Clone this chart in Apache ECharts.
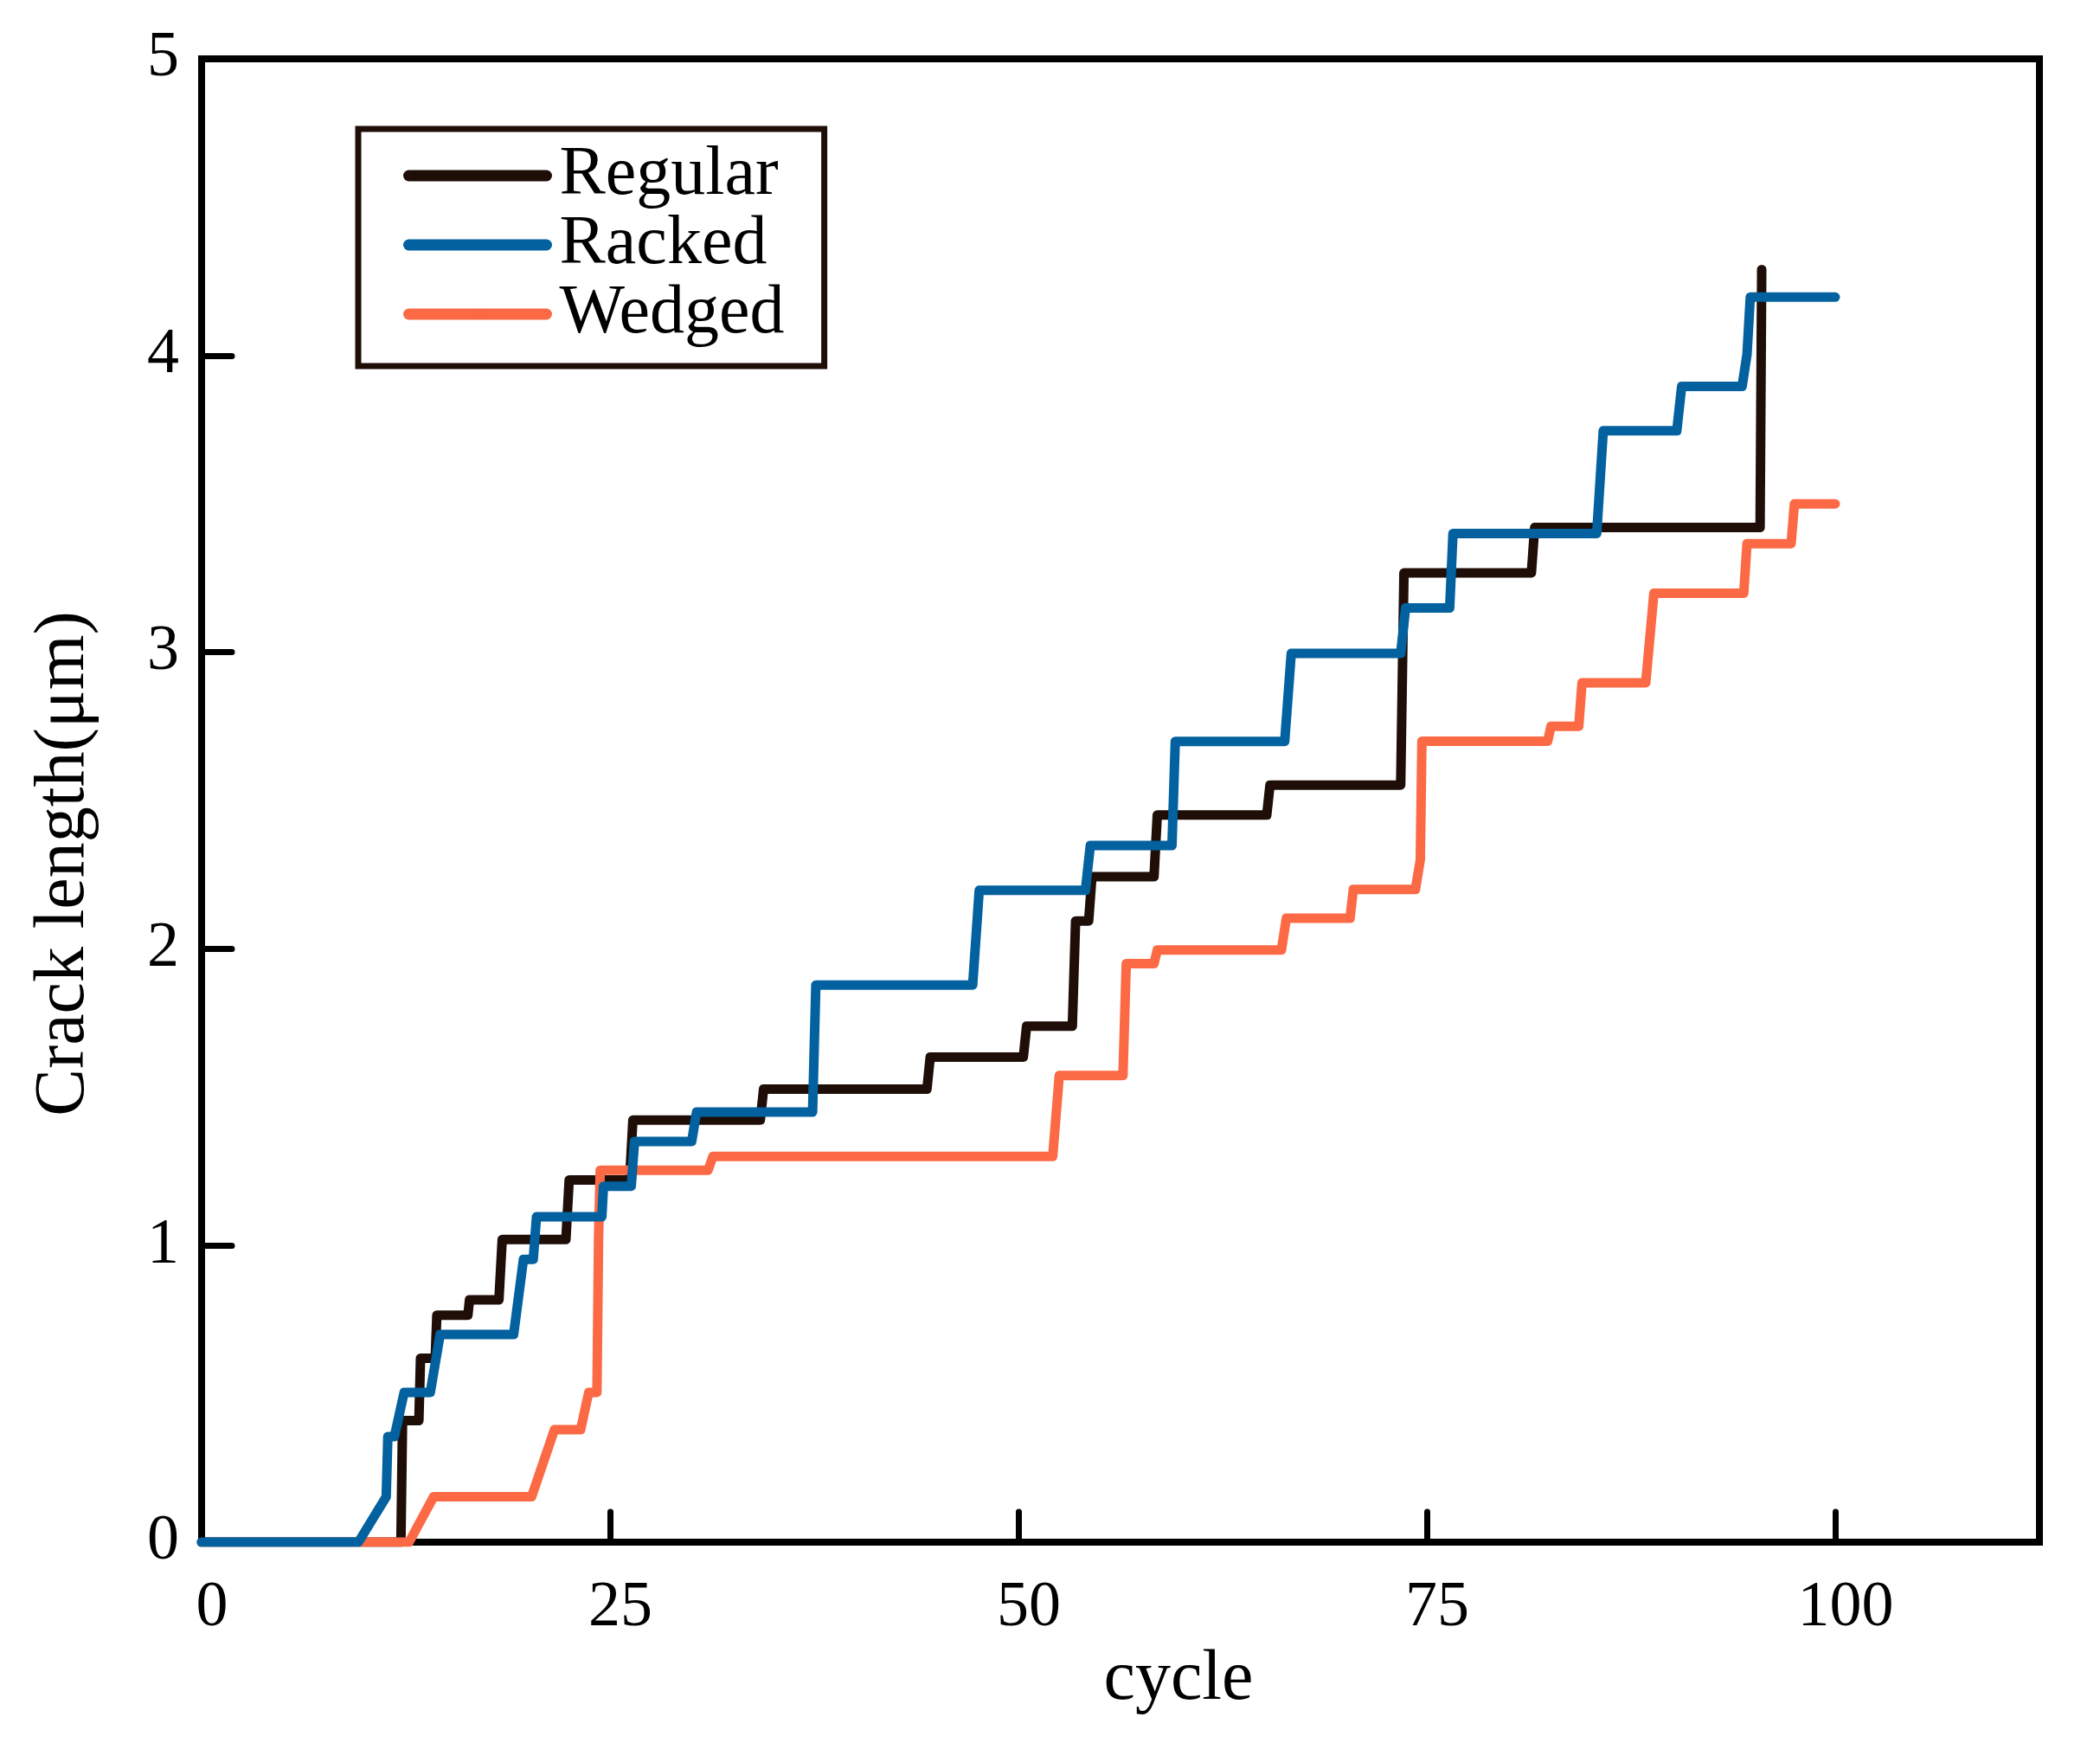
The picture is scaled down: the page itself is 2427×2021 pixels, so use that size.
<!DOCTYPE html>
<html>
<head>
<meta charset="utf-8">
<script src="https://cdn.jsdelivr.net/npm/echarts@6/dist/echarts.min.js"></script>
<style>
html,body{margin:0;padding:0;background:#fff;}
#chart{width:2427px;height:2021px;}
</style>
</head>
<body>
<div id="chart"></div>
<script>
// ---- data ----
const seriesNames = ['Regular', 'Racked', 'Wedged'];
const xTicks = [0, 25, 50, 75, 100];
const yTicks = [0, 1, 2, 3, 4, 5];

const regularCycle  = [0, 12.2, 12.3, 13.3, 13.4, 14.3, 14.4, 16.3, 16.4, 18.2, 18.4, 22.3, 22.5, 26.2, 26.4, 34.2, 34.4, 44.4, 44.6, 50.3, 50.5, 53.3, 53.5, 54.3, 54.5, 58.3, 58.5, 65.2, 65.4, 73.4, 73.6, 81.4, 81.6, 95.4, 95.5];
const regularLength = [0, 0, 0.41, 0.41, 0.62, 0.62, 0.765, 0.765, 0.817, 0.817, 1.02, 1.02, 1.221, 1.221, 1.423, 1.423, 1.527, 1.527, 1.635, 1.635, 1.739, 1.739, 2.094, 2.094, 2.243, 2.243, 2.451, 2.451, 2.552, 2.552, 3.267, 3.267, 3.42, 3.42, 4.29];

const rackedCycle  = [0, 9.6, 11.3, 11.4, 11.8, 12.4, 14.0, 14.6, 19.1, 19.7, 20.3, 20.5, 24.5, 24.6, 26.3, 26.5, 30.0, 30.3, 37.4, 37.6, 47.2, 47.6, 54.1, 54.4, 59.4, 59.6, 66.3, 66.7, 73.4, 73.7, 76.4, 76.6, 85.4, 85.8, 90.3, 90.6, 94.3, 94.6, 94.8, 100];
const rackedLength = [0, 0, 0.153, 0.356, 0.356, 0.505, 0.505, 0.70, 0.70, 0.953, 0.953, 1.097, 1.097, 1.20, 1.20, 1.351, 1.351, 1.45, 1.45, 1.878, 1.878, 2.197, 2.197, 2.348, 2.348, 2.699, 2.699, 2.996, 2.996, 3.149, 3.149, 3.40, 3.40, 3.746, 3.746, 3.896, 3.896, 4.004, 4.197, 4.197];

const wedgedCycle  = [9.8, 12.7, 14.2, 20.2, 21.6, 23.2, 23.7, 24.2, 24.3, 24.4, 31.0, 31.3, 52.1, 52.5, 56.4, 56.6, 58.3, 58.5, 66.1, 66.4, 70.3, 70.5, 74.3, 74.6, 74.7, 82.4, 82.6, 84.3, 84.5, 88.4, 88.9, 94.4, 94.6, 97.3, 97.5, 100];
const wedgedLength = [0, 0, 0.153, 0.153, 0.379, 0.379, 0.505, 0.505, 1.03, 1.254, 1.254, 1.30, 1.30, 1.573, 1.573, 1.95, 1.95, 1.996, 1.996, 2.103, 2.103, 2.20, 2.20, 2.30, 2.70, 2.70, 2.75, 2.75, 2.897, 2.897, 3.199, 3.199, 3.366, 3.366, 3.50, 3.50];

const colors = { Regular: '#1f0e08', Racked: '#02619e', Wedged: '#fb6a45' };

function pairs(xs, ys) { return xs.map((x, i) => [x, ys[i]]); }

const FONT = '"Liberation Serif", "Times New Roman", serif';

function lineSeries(name, xs, ys) {
  return {
    name: name,
    type: 'line',
    data: pairs(xs, ys),
    showSymbol: false,
    symbol: 'none',
    color: colors[name],
    lineStyle: { width: 11, color: colors[name], cap: 'round', join: 'round' },
    emphasis: { disabled: true },
    animation: false
  };
}

const chart = echarts.init(document.getElementById('chart'), null, { renderer: 'canvas' });
chart.setOption({
  backgroundColor: '#fff',
  animation: false,
  grid: {
    left: 233, right: 70, top: 68, bottom: 239,
    show: true, borderColor: '#000', borderWidth: 8, backgroundColor: 'transparent'
  },
  legend: {
    data: seriesNames,
    orient: 'vertical',
    left: 414, top: 149,
    padding: [14, 46, 20, 52],
    itemWidth: 159, itemHeight: 13, itemGap: 0,
    borderColor: '#1f0e08', borderWidth: 7, borderRadius: 0,
    backgroundColor: '#fff',
    lineStyle: { width: 13, cap: 'round' },
    textStyle: { fontFamily: FONT, fontSize: 80, color: '#000', lineHeight: 80, padding: [0, 0, 0, 10] },
    selectedMode: false
  },
  xAxis: {
    type: 'value', min: 0, max: 112.5, interval: 25,
    name: 'cycle', nameLocation: 'middle', nameGap: 118,
    nameTextStyle: { fontFamily: FONT, fontSize: 82, color: '#000', padding: [0, 0, 0, 134] },
    axisLine: { show: false },
    axisTick: { show: true, inside: true, length: 35, lineStyle: { color: '#000', width: 7, cap: 'round' } },
    axisLabel: {
      fontFamily: FONT, fontSize: 74, color: '#000', margin: 40, showMaxLabel: false,
      padding: [0, 0, 0, 24],
      formatter: v => (xTicks.indexOf(v) >= 0 ? String(v) : '')
    },
    splitLine: { show: false }
  },
  yAxis: {
    type: 'value', min: 0, max: 5, interval: 1,
    name: 'Crack length(μm)', nameLocation: 'middle', nameGap: 118, nameRotate: 90,
    nameTextStyle: { fontFamily: FONT, fontSize: 82, color: '#000', padding: [0, 146, 0, 0] },
    axisLine: { show: false },
    axisTick: { show: true, inside: true, length: 35, lineStyle: { color: '#000', width: 7, cap: 'round' } },
    axisLabel: {
      fontFamily: FONT, fontSize: 74, color: '#000', margin: 26,
      formatter: v => (yTicks.indexOf(v) >= 0 ? String(v) : '')
    },
    splitLine: { show: false }
  },
  series: [
    lineSeries('Regular', regularCycle, regularLength),
    lineSeries('Wedged', wedgedCycle, wedgedLength),
    lineSeries('Racked', rackedCycle, rackedLength)
  ]
});
</script>
</body>
</html>
